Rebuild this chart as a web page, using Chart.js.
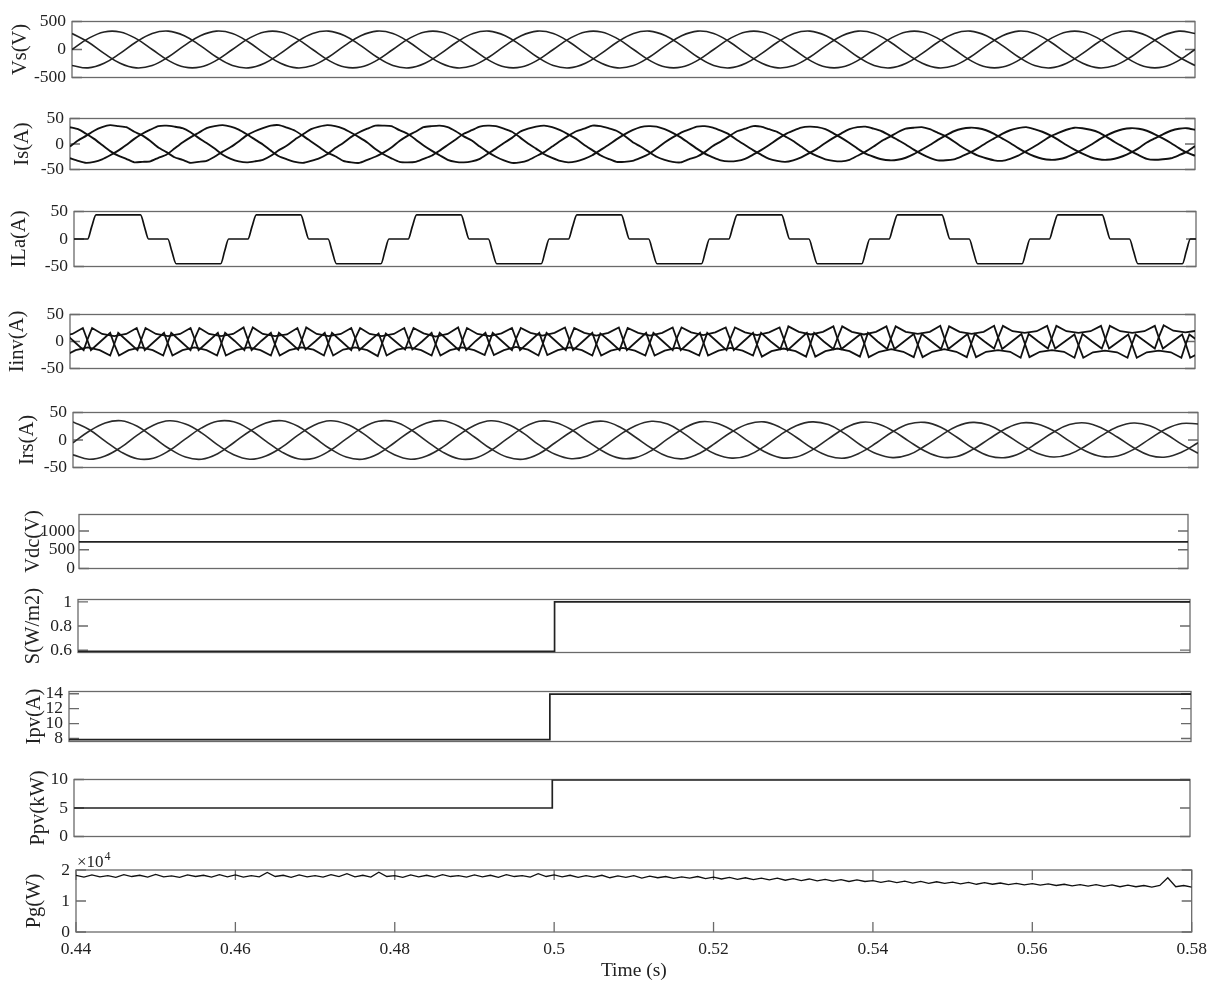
<!DOCTYPE html>
<html>
<head>
<meta charset="utf-8">
<script src="https://cdn.jsdelivr.net/npm/chart.js@4.4.0/dist/chart.umd.min.js"></script>
<style>
  body { margin: 0; background: #fff; }
  #wrap { position: relative; width: 1214px; height: 983px; }
  #wrap canvas { position: absolute; left: 0; }
</style>
</head>
<body>
<div id="wrap"></div>
<script>
// time axis is in ms (440 = 0.44 s)
const timeTicks = [440, 460, 480, 500, 520, 540, 560, 580];
const timeLabels = ['0.44', '0.46', '0.48', '0.5', '0.52', '0.54', '0.56', '0.58'];

// 2 ms grid
const t2 = [440,442,444,446,448,450,452,454,456,458,460,462,464,466,468,470,472,474,476,478,
  480,482,484,486,488,490,492,494,496,498,500,502,504,506,508,510,512,514,516,518,
  520,522,524,526,528,530,532,534,536,538,540,542,544,546,548,550,552,554,556,558,
  560,562,564,566,568,570,572,574,576,578,580];

// 1 ms grid
const t1 = [440,441,442,443,444,445,446,447,448,449,450,451,452,453,454,455,456,457,458,459,
  460,461,462,463,464,465,466,467,468,469,470,471,472,473,474,475,476,477,478,479,
  480,481,482,483,484,485,486,487,488,489,490,491,492,493,494,495,496,497,498,499,
  500,501,502,503,504,505,506,507,508,509,510,511,512,513,514,515,516,517,518,519,
  520,521,522,523,524,525,526,527,528,529,530,531,532,533,534,535,536,537,538,539,
  540,541,542,543,544,545,546,547,548,549,550,551,552,553,554,555,556,557,558,559,
  560,561,562,563,564,565,566,567,568,569,570,571,572,573,574,575,576,577,578,579,580];

// Vs(V)
const vsA = [0,194,314,314,194,0,-194,-314,-314,-194, 0,194,314,314,194,0,-194,-314,-314,-194,
  0,194,314,314,194,0,-194,-314,-314,-194, 0,194,314,314,194,0,-194,-314,-314,-194,
  0,194,314,314,194,0,-194,-314,-314,-194, 0,194,314,314,194,0,-194,-314,-314,-194,
  0,194,314,314,194,0,-194,-314,-314,-194, 0];
const vsB = [286,134,-69,-245,-328,-286,-134,69,245,328, 286,134,-69,-245,-328,-286,-134,69,245,328,
  286,134,-69,-245,-328,-286,-134,69,245,328, 286,134,-69,-245,-328,-286,-134,69,245,328,
  286,134,-69,-245,-328,-286,-134,69,245,328, 286,134,-69,-245,-328,-286,-134,69,245,328,
  286,134,-69,-245,-328,-286,-134,69,245,328, 286];
const vsC = [-286,-328,-245,-69,134,286,328,245,69,-134, -286,-328,-245,-69,134,286,328,245,69,-134,
  -286,-328,-245,-69,134,286,328,245,69,-134, -286,-328,-245,-69,134,286,328,245,69,-134,
  -286,-328,-245,-69,134,286,328,245,69,-134, -286,-328,-245,-69,134,286,328,245,69,-134,
  -286,-328,-245,-69,134,286,328,245,69,-134, -286];

// Is(A), 1 ms grid
const isA = [-5,7,16,26,33,37,35,33,24,17,6,-7,-16,-26,-31,-37,-35,-33,-25,-15,
  -6,5,17,25,31,36,37,32,26,16,5,-6,-17,-24,-33,-36,-37,-31,-25,-17,
  -7,6,16,24,33,35,36,33,25,15,7,-5,-16,-25,-32,-37,-36,-32,-24,-16,
  -5,6,16,25,30,36,35,31,26,16,4,-5,-15,-25,-31,-35,-36,-30,-25,-16,
  -4,5,15,25,30,35,34,29,24,15,6,-5,-16,-24,-30,-33,-34,-31,-23,-15,
  -5,6,14,23,30,32,33,29,22,15,5,-6,-15,-23,-28,-32,-33,-29,-23,-14,
  -5,5,15,22,28,32,31,28,23,14,4,-5,-14,-22,-29,-31,-30,-28,-22,-15, -4];
const isB = [33,29,20,10,-2,-14,-23,-29,-36,-35,-34,-27,-21,-9,3,13,22,31,35,37,
  34,28,19,9,-1,-13,-24,-30,-35,-37,-33,-28,-20,-8,2,14,23,30,36,36,
  35,27,20,9,-3,-13,-22,-31,-35,-36,-34,-29,-19,-9,2,12,24,30,34,36,
  33,27,19,10,-2,-12,-22,-29,-35,-35,-33,-27,-20,-9,3,13,22,28,34,35,
  32,26,19,8,-2,-12,-21,-29,-33,-35,-32,-26,-18,-9,2,12,21,29,33,34,
  30,25,17,8,-1,-11,-20,-27,-32,-32,-30,-24,-17,-8,2,11,20,27,31,33,
  29,24,17,8,-2,-11,-19,-26,-30,-31,-29,-24,-17,-8,3,11,19,26,30,31, 28];
const isC = [-28,-33,-37,-35,-30,-22,-13,-2,10,20,28,35,36,34,31,23,12,2,-9,-21,
  -29,-34,-36,-34,-31,-23,-12,-3,9,19,29,34,37,35,30,22,13,3,-10,-20,
  -28,-35,-36,-35,-29,-23,-13,-2,9,20,27,34,36,35,30,24,13,1,-9,-20,
  -27,-33,-36,-34,-29,-22,-12,-2,9,19,27,33,35,34,29,22,13,2,-9,-19,
  -26,-32,-34,-33,-29,-21,-12,-2,9,19,26,32,34,33,29,21,12,2,-9,-19,
  -25,-30,-32,-31,-27,-20,-11,-2,8,17,25,30,32,31,27,20,11,2,-8,-17,
  -24,-29,-31,-30,-26,-19,-11,-2,8,17,24,29,31,30,26,19,11,2,-8,-17, -23];

// ILa(A), corner points
const ilaT = [440,
  441.7,442.2,442.75,448.3,448.8,449.3,451.7,452.2,452.75,458.3,458.8,459.3,
  461.7,462.2,462.75,468.3,468.8,469.3,471.7,472.2,472.75,478.3,478.8,479.3,
  481.7,482.2,482.75,488.3,488.8,489.3,491.7,492.2,492.75,498.3,498.8,499.3,
  501.7,502.2,502.75,508.3,508.8,509.3,511.7,512.2,512.75,518.3,518.8,519.3,
  521.7,522.2,522.75,528.3,528.8,529.3,531.7,532.2,532.75,538.3,538.8,539.3,
  541.7,542.2,542.75,548.3,548.8,549.3,551.7,552.2,552.75,558.3,558.8,559.3,
  561.7,562.2,562.75,568.3,568.8,569.3,571.7,572.2,572.75,578.3,578.8,579.3,
  580];
const ilaV = [0,
  0,22,44,44,22,0,0,-22,-45,-45,-22,0,
  0,22,44,44,22,0,0,-22,-45,-45,-22,0,
  0,22,44,44,22,0,0,-22,-45,-45,-22,0,
  0,22,44,44,22,0,0,-22,-45,-45,-22,0,
  0,22,44,44,22,0,0,-22,-45,-45,-22,0,
  0,22,44,44,22,0,0,-22,-45,-45,-22,0,
  0,22,44,44,22,0,0,-22,-45,-45,-22,0,
  0];

// Iinv(A), corner points per phase
const iinvTA = [439.3,
  440.5,441.7,442.2,442.75,444,445.5,447,448.3,448.8,449.3,450.5,451.7,452.2,452.75,454,455.5,457,458.3,458.8,459.3,
  460.5,461.7,462.2,462.75,464,465.5,467,468.3,468.8,469.3,470.5,471.7,472.2,472.75,474,475.5,477,478.3,478.8,479.3,
  480.5,481.7,482.2,482.75,484,485.5,487,488.3,488.8,489.3,490.5,491.7,492.2,492.75,494,495.5,497,498.3,498.8,499.3,
  500.5,501.7,502.2,502.75,504,505.5,507,508.3,508.8,509.3,510.5,511.7,512.2,512.75,514,515.5,517,518.3,518.8,519.3,
  520.5,521.7,522.2,522.75,524,525.5,527,528.3,528.8,529.3,530.5,531.7,532.2,532.75,534,535.5,537,538.3,538.8,539.3,
  540.5,541.7,542.2,542.75,544,545.5,547,548.3,548.8,549.3,550.5,551.7,552.2,552.75,554,555.5,557,558.3,558.8,559.3,
  560.5,561.7,562.2,562.75,564,565.5,567,568.3,568.8,569.3,570.5,571.7,572.2,572.75,574,575.5,577,578.3,578.8,579.3,
  580.5];
const iinvA = [16,
  0,-16,5,25,14,10,14,25,5,-16,0,16,-5,-26,-16,-11,-16,-26,-5,16,
  1,-16,6,26,14,10,13,25,5,-15,0,16,-6,-26,-15,-11,-16,-27,-5,15,
  0,-15,5,25,15,9,14,26,4,-16,1,16,-5,-25,-16,-10,-15,-26,-6,16,
  0,-16,5,25,16,11,16,26,5,-16,0,16,-5,-26,-17,-12,-17,-26,-5,16,
  0,-16,6,26,17,12,17,26,6,-16,0,16,-6,-28,-18,-13,-18,-28,-6,16,
  0,-14,7,28,18,14,18,29,7,-14,0,14,-7,-29,-19,-16,-19,-30,-7,14,
  0,-13,7,29,19,16,19,29,7,-13,0,13,-7,-30,-20,-17,-20,-30,-7,13,
  0];
const iinvTB = [438.8,440.3,441.6,442.1,442.6,443.8,445,445.5,446.1,447.3,448.8,450.3,451.6,452.1,452.6,
  453.8,455,455.5,456.1,457.3,458.8,460.3,461.6,462.1,462.6,463.8,465,465.5,466.1,467.3,468.8,470.3,471.6,472.1,472.6,
  473.8,475,475.5,476.1,477.3,478.8,480.3,481.6,482.1,482.6,483.8,485,485.5,486.1,487.3,488.8,490.3,491.6,492.1,492.6,
  493.8,495,495.5,496.1,497.3,498.8,500.3,501.6,502.1,502.6,503.8,505,505.5,506.1,507.3,508.8,510.3,511.6,512.1,512.6,
  513.8,515,515.5,516.1,517.3,518.8,520.3,521.6,522.1,522.6,523.8,525,525.5,526.1,527.3,528.8,530.3,531.6,532.1,532.6,
  533.8,535,535.5,536.1,537.3,538.8,540.3,541.6,542.1,542.6,543.8,545,545.5,546.1,547.3,548.8,550.3,551.6,552.1,552.6,
  553.8,555,555.5,556.1,557.3,558.8,560.3,561.6,562.1,562.6,563.8,565,565.5,566.1,567.3,568.8,570.3,571.6,572.1,572.6,
  573.8,575,575.5,576.1,577.3,578.8,580.3];
const iinvB = [10,14,25,5,-16,0,16,-5,-26,-16,-11,-16,-26,-5,16,
  0,-16,5,25,14,10,14,26,5,-16,1,16,-5,-26,-16,-11,-15,-26,-5,16,
  0,-16,6,25,14,10,14,25,5,-15,0,16,-5,-26,-16,-11,-16,-25,-5,16,
  0,-16,5,25,16,11,16,26,5,-16,0,16,-5,-26,-17,-12,-17,-26,-5,16,
  0,-16,6,26,17,12,17,26,6,-16,0,16,-6,-28,-18,-13,-18,-28,-6,16,
  0,-14,6,28,18,13,18,28,6,-14,0,14,-6,-29,-19,-14,-19,-29,-6,14,
  0,-13,7,29,19,16,19,29,7,-13,0,13,-7,-30,-20,-17,-20,-30,-7,13,
  0,-13,8,30,20,17,20];
const iinvTC = [439.4,440.7,442.2,443.7,445,445.5,446,
  447.2,448.4,448.9,449.4,450.7,452.2,453.7,455,455.5,456,457.2,458.4,458.9,459.4,460.7,462.2,463.7,465,465.5,466,
  467.2,468.4,468.9,469.4,470.7,472.2,473.7,475,475.5,476,477.2,478.4,478.9,479.4,480.7,482.2,483.7,485,485.5,486,
  487.2,488.4,488.9,489.4,490.7,492.2,493.7,495,495.5,496,497.2,498.4,498.9,499.4,500.7,502.2,503.7,505,505.5,506,
  507.2,508.4,508.9,509.4,510.7,512.2,513.7,515,515.5,516,517.2,518.4,518.9,519.4,520.7,522.2,523.7,525,525.5,526,
  527.2,528.4,528.9,529.4,530.7,532.2,533.7,535,535.5,536,537.2,538.4,538.9,539.4,540.7,542.2,543.7,545,545.5,546,
  547.2,548.4,548.9,549.4,550.7,552.2,553.7,555,555.5,556,557.2,558.4,558.9,559.4,560.7,562.2,563.7,565,565.5,566,
  567.2,568.4,568.9,569.4,570.7,572.2,573.7,575,575.5,576,577.2,578.4,578.9,579.4,580.7];
const iinvC = [-26,-16,-11,-16,-26,-5,16,
  0,-16,5,25,14,10,14,25,5,-16,0,16,-5,-26,-16,-11,-16,-26,-5,16,
  1,-15,5,26,14,10,14,25,6,-16,0,15,-5,-26,-15,-11,-16,-26,-5,16,
  0,-16,5,25,14,10,15,25,5,-16,0,16,-5,-25,-16,-11,-16,-26,-5,15,
  0,-16,5,25,16,11,16,26,5,-16,0,16,-5,-26,-17,-12,-17,-26,-5,16,
  0,-14,6,28,18,13,18,28,6,-14,0,14,-6,-29,-19,-14,-19,-29,-6,14,
  0,-14,7,28,18,14,18,29,7,-14,0,14,-7,-29,-19,-16,-19,-30,-7,14,
  0,-13,7,29,19,16,19,29,7,-13,0,13,-7,-30,-20];

// Irs(A), 2 ms grid
const irsA = [-5,16,31,35,25,5,-16,-31,-35,-25, -5,16,31,35,25,5,-16,-31,-35,-25,
  -5,16,31,35,25,5,-16,-31,-35,-25, -5,15,30,34,24,5,-15,-30,-34,-24,
  -5,15,29,33,23,5,-15,-29,-33,-23, -5,15,29,32,23,5,-15,-29,-32,-23,
  -5,14,28,31,22,5,-14,-28,-31,-22, -5];
const irsB = [33,19,-2,-22,-34,-33,-19,2,22,34, 33,19,-2,-22,-34,-33,-19,2,22,34,
  33,19,-2,-22,-34,-33,-19,2,22,34, 32,19,-2,-21,-33,-32,-19,2,21,33,
  31,18,-2,-21,-32,-31,-18,2,21,32, 30,17,-2,-20,-31,-30,-17,2,20,31,
  29,17,-2,-20,-30,-29,-17,2,20,30, 29];
const irsC = [-27,-35,-29,-13,9,27,35,29,13,-9, -27,-35,-29,-13,9,27,35,29,13,-9,
  -27,-35,-29,-13,9,27,35,29,13,-9, -26,-34,-29,-12,9,26,34,29,12,-9,
  -26,-33,-28,-12,9,26,33,28,12,-9, -25,-32,-27,-11,8,25,32,27,11,-8,
  -24,-31,-26,-11,8,24,31,26,11,-8, -24];

// step quantities
const flatT = [440, 580];
const vdcV = [710, 710];
const stepT = [440, 500, 500, 580];
const sV = [0.59, 0.59, 1.0, 1.0];
const ipvV = [7.85, 7.85, 13.95, 13.95];
const ppvV = [5, 5, 9.95, 9.95];

// Pg(W), 1 ms grid
const pgV = [18300,17700,18400,17800,18200,17600,18500,17900,18300,17700,18600,17800,18100,17600,18400,17900,18300,17700,18500,17800,
  18400,17700,18200,17800,19200,17900,18300,17600,18400,17800,18200,17700,18500,17900,18800,17800,18300,17700,19300,17900,
  18200,17600,18400,17800,18300,17700,18500,17900,18200,17700,18400,17800,18300,17600,18500,17900,18200,17700,18800,17900,
  18400,17800,18300,17600,18200,17700,18300,17500,18100,17600,18200,17400,18000,17500,17900,17300,17800,17400,17900,17200,
  17700,17100,17600,17000,17500,16900,17400,16800,17400,16700,17200,16600,17100,16500,17000,16400,16900,16300,16800,16300,
  16600,16000,16500,15900,16400,15800,16300,15700,16200,15700,16100,15500,16000,15400,15900,15400,15800,15300,15700,15200,
  15600,15100,15500,15000,15400,14900,15300,14800,15300,14700,15200,14600,15100,14600,15000,14500,15000,17500,14600,15000,14500];

const FONT = '"Liberation Serif", "Times New Roman", serif';

function xy(xs, ys) {
  return xs.map((x, i) => ({ x: x, y: ys[i] }));
}

// box, inner tick marks, rotated y label, exponent
const framePlugin = {
  id: 'frame',
  beforeDatasetsDraw(chart, args, opt) {
    const ctx = chart.ctx, a = chart.chartArea;
    const ys = chart.scales.y, xs = chart.scales.x;
    ctx.save();
    ctx.strokeStyle = '#6a6a6a';
    ctx.lineWidth = 1.3;
    ctx.strokeRect(a.left, a.top, a.right - a.left, a.bottom - a.top);
    ctx.beginPath();
    ys.ticks.forEach(t => {
      const y = ys.getPixelForValue(t.value);
      ctx.moveTo(a.left, y); ctx.lineTo(a.left + 10, y);
      ctx.moveTo(a.right, y); ctx.lineTo(a.right - 10, y);
    });
    if (opt.xTicks) {
      xs.ticks.forEach(t => {
        const x = xs.getPixelForValue(t.value);
        ctx.moveTo(x, a.bottom); ctx.lineTo(x, a.bottom - 10);
        ctx.moveTo(x, a.top); ctx.lineTo(x, a.top + 10);
      });
    }
    ctx.stroke();

    ctx.fillStyle = '#222';
    ctx.font = '20.5px ' + FONT;
    ctx.textAlign = 'center';
    ctx.textBaseline = 'middle';
    ctx.translate(opt.labelX, (a.top + a.bottom) / 2);
    ctx.rotate(-Math.PI / 2);
    ctx.fillText(opt.label, 0, 0);
    ctx.restore();

    if (opt.exponent) {
      ctx.save();
      ctx.fillStyle = '#222';
      ctx.textAlign = 'left';
      ctx.textBaseline = 'alphabetic';
      ctx.font = '17px ' + FONT;
      ctx.fillText('×10', a.left + 1, a.top - 3);
      const w = ctx.measureText('×10').width;
      ctx.font = '12px ' + FONT;
      ctx.fillText(opt.exponent, a.left + 2 + w, a.top - 10);
      ctx.restore();
    }
  }
};

function panel(p) {
  const [l, t, r, b] = p.box;
  const padT = p.xAxis ? 20 : 14;
  const padB = p.xAxis ? 51 : 14;
  const canvas = document.createElement('canvas');
  canvas.width = 1214;
  canvas.height = (b - t) + padT + padB;
  canvas.style.top = (t - padT) + 'px';
  document.getElementById('wrap').appendChild(canvas);

  const xScale = {
    type: 'linear',
    min: 440,
    max: 580,
    display: false
  };
  if (p.xAxis) {
    Object.assign(xScale, {
      display: true,
      afterFit: s => { s.height = padB; },
      afterBuildTicks: s => { s.ticks = timeTicks.map(v => ({ value: v })); },
      grid: { display: false, drawTicks: false },
      border: { display: false },
      ticks: {
        autoSkip: false,
        maxRotation: 0,
        padding: 7,
        color: '#222',
        font: { family: FONT, size: 17.5 },
        callback: (v, i) => timeLabels[i]
      },
      title: {
        display: true,
        text: 'Time (s)',
        color: '#222',
        font: { family: FONT, size: 19.5 },
        padding: { top: 0, bottom: 0 }
      }
    });
  }

  new Chart(canvas, {
    type: 'line',
    data: {
      datasets: p.series.map(s => ({
        data: s.data,
        borderColor: s.color || '#1a1a1a',
        borderWidth: s.width || 1.5,
        pointRadius: 0,
        tension: s.tension || 0,
        cubicInterpolationMode: s.mono ? 'monotone' : 'default',
        fill: false
      }))
    },
    options: {
      responsive: false,
      animation: false,
      events: [],
      layout: { padding: { left: 0, right: 1214 - r, top: padT, bottom: p.xAxis ? 0 : padB } },
      plugins: {
        legend: { display: false },
        tooltip: { enabled: false },
        frame: { label: p.label, labelX: p.labelX, xTicks: !!p.xAxis, exponent: p.exponent }
      },
      scales: {
        x: xScale,
        y: {
          type: 'linear',
          min: p.min,
          max: p.max,
          afterFit: s => { s.width = l; },
          afterBuildTicks: s => { s.ticks = p.ticks.map(v => ({ value: v })); },
          grid: { display: false, drawTicks: false },
          border: { display: false },
          ticks: {
            autoSkip: false,
            padding: p.tickPad || 6,
            color: '#222',
            font: { family: FONT, size: 17.5 },
            callback: (v, i) => p.tickLabels[i]
          }
        }
      }
    },
    plugins: [framePlugin]
  });
}

const amp50 = [-50, 0, 50];
const amp50Labels = ['-50', '0', '50'];

panel({ box: [72, 19, 1195, 80], label: 'Vs(V)', labelX: 20.5, min: -500, max: 500,
  ticks: [-500, 0, 500], tickLabels: ['-500', '0', '500'],
  series: [
    { data: xy(t2, vsA), tension: 0.4, width: 1.6, color: '#222' },
    { data: xy(t2, vsB), tension: 0.4, width: 1.6, color: '#222' },
    { data: xy(t2, vsC), tension: 0.4, width: 1.6, color: '#222' }
  ] });

panel({ box: [70, 116, 1195, 172], label: 'Is(A)', labelX: 22.5, min: -50, max: 50,
  ticks: amp50, tickLabels: amp50Labels,
  series: [
    { data: xy(t1, isA), tension: 0.2, width: 1.9, color: '#111' },
    { data: xy(t1, isB), tension: 0.2, width: 1.9, color: '#111' },
    { data: xy(t1, isC), tension: 0.2, width: 1.9, color: '#111' }
  ] });

panel({ box: [74, 209, 1196, 269], label: 'ILa(A)', labelX: 19.5, min: -50, max: 50,
  ticks: amp50, tickLabels: amp50Labels,
  series: [
    { data: xy(ilaT, ilaV), mono: true, tension: 0.4, width: 1.7, color: '#111' }
  ] });

panel({ box: [70, 312, 1195, 371], label: 'Iinv(A)', labelX: 17.5, min: -50, max: 50,
  ticks: amp50, tickLabels: amp50Labels,
  series: [
    { data: xy(iinvTA, iinvA), width: 1.8, color: '#111' },
    { data: xy(iinvTB, iinvB), width: 1.8, color: '#111' },
    { data: xy(iinvTC, iinvC), width: 1.8, color: '#111' }
  ] });

panel({ box: [73, 410, 1198, 470], label: 'Irs(A)', labelX: 27.5, min: -50, max: 50,
  ticks: amp50, tickLabels: amp50Labels,
  series: [
    { data: xy(t2, irsA), tension: 0.4, width: 1.6, color: '#2a2a2a' },
    { data: xy(t2, irsB), tension: 0.4, width: 1.6, color: '#2a2a2a' },
    { data: xy(t2, irsC), tension: 0.4, width: 1.6, color: '#2a2a2a' }
  ] });

panel({ box: [79, 514, 1188, 569], label: 'Vdc(V)', labelX: 34, min: 0, max: 1440,
  ticks: [0, 500, 1000], tickLabels: ['0', '500', '1000'], tickPad: 4,
  series: [ { data: xy(flatT, vdcV), width: 1.7, color: '#222' } ] });

panel({ box: [78, 597, 1190, 655], label: 'S(W/m2)', labelX: 33.5, min: 0.58, max: 1.02,
  ticks: [0.6, 0.8, 1], tickLabels: ['0.6', '0.8', '1'],
  series: [ { data: xy(stepT, sV), width: 1.7, color: '#222' } ] });

panel({ box: [69, 689, 1191, 744], label: 'Ipv(A)', labelX: 35, min: 7.6, max: 14.3,
  ticks: [8, 10, 12, 14], tickLabels: ['8', '10', '12', '14'],
  series: [ { data: xy(stepT, ipvV), width: 1.7, color: '#222' } ] });

panel({ box: [74, 777, 1190, 839], label: 'Ppv(kW)', labelX: 38.5, min: 0, max: 10,
  ticks: [0, 5, 10], tickLabels: ['0', '5', '10'],
  series: [ { data: xy(stepT, ppvV), width: 1.7, color: '#222' } ] });

panel({ box: [76, 870, 1192, 932], label: 'Pg(W)', labelX: 35, min: 0, max: 20000,
  ticks: [0, 10000, 20000], tickLabels: ['0', '1', '2'], exponent: '4', xAxis: true,
  series: [ { data: xy(t1, pgV), width: 1.3, color: '#111' } ] });
</script>
</body>
</html>
